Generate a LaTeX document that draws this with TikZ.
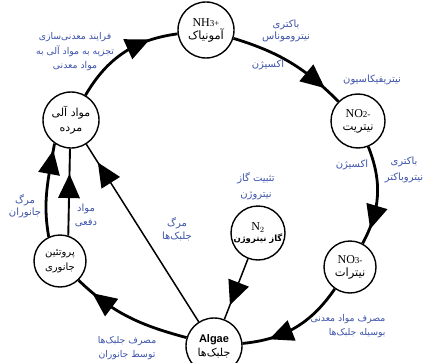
\documentclass[tikz,border=0pt]{standalone}
\usepackage{fontspec}
\usetikzlibrary{decorations.markings}
\TeXXeTstate=1
\setmainfont{Liberation Serif}
\newfontfamily\fa[Script=Arabic]{DejaVu Sans}
\newfontfamily\lsans{Liberation Sans}
\definecolor{labblue}{RGB}{60,82,170}
\tikzset{
  st/.style={circle, draw, line width=1.4pt, minimum size=#1, inner sep=0pt, align=center,
    font=\fontsize{12}{13}\selectfont},
  fatxt/.style={font=\fa\fontsize{11}{13}\selectfont},
  lab/.style={text=labblue, font=\fa\fontsize{10}{14}\selectfont, align=center},
  thickarc/.style={line width=2.8pt},
  medln/.style={line width=1.9pt},
  thinln/.style={line width=1.5pt},
  arrowat/.style={postaction={decorate, decoration={markings,
    mark=at position #1 with {\fill (12pt,0pt) -- (-12pt,11pt) -- (-12pt,-11pt) -- cycle;}}}},
}
\begin{document}
\begin{tikzpicture}[x=1pt,y=1pt]
\useasboundingbox (0,0) rectangle (427,362);
% nodes
\node[st=56pt] (nh3) at (206,332) {NH{\small 3+}\\[0pt]{\fa\fontsize{11.5}{12}\selectfont\beginR آمونیاک\endR}};
\node[st=54pt] (no2) at (358,241) {NO{\small 2-}\\[0pt]{\fa\fontsize{11.5}{12}\selectfont\beginR نیتریت\endR}};
\node[st=52pt] (no3) at (350,95) {NO{\small 3-}\\[0pt]{\fa\fontsize{11.5}{12}\selectfont\beginR نیترات\endR}};
\node[st=56pt] (algae) at (214,16) {{\lsans\bfseries\fontsize{11}{12}\selectfont Algae}\\[1pt]{\fa\fontsize{11}{12}\selectfont\beginR جلبک‌ها\endR}};
\node[st=54pt] (n2) at (258,129) {N$_2$\\[-2pt]{\fa\bfseries\fontsize{8.5}{10}\selectfont\beginR گاز نیتروژن\endR}};
\node[st=52pt, font=\fa\fontsize{10}{13}\selectfont] (prot) at (60,101) {\beginR پروتئین\endR\\[2pt]\beginR جانوری\endR};
\node[st=56pt, fatxt] (dead) at (71,242) {\beginR مواد آلی\endR\\[2pt]\beginR مرده\endR};
% main cycle
\draw[thickarc, arrowat=0.65] (dead) to[bend left=26] (nh3);
\draw[thickarc, arrowat=0.75] (nh3) to[bend left=14] (no2);
\draw[thickarc, arrowat=0.72] (no2) to[bend left=25] (no3);
\draw[thickarc, arrowat=0.65] (no3) to[bend left=25] (algae);
\draw[thickarc, arrowat=0.75] (algae.163) to[out=165,in=-44] (prot.-46);
\draw[thickarc, arrowat=0.8] (prot.115) to[out=100,in=260] (dead.235);
\draw[medln, arrowat=0.57] (prot.72) -- (dead.268);
\draw[thinln, arrowat=0.84] (algae) -- (dead);
\draw[thinln, arrowat=0.58] (n2) -- (algae);
% labels
\node[lab, font=\fa\fontsize{9.3}{14.5}\selectfont] (l1) at (75,310) {\beginR فرایند معدنی‌سازی\endR\\\beginR تجزیه به مواد آلی به\endR\\\beginR مواد معدنی\endR};
\node[lab, font=\fa\fontsize{10}{12.5}\selectfont] (l2) at (286,331) {\beginR باکتری\endR\\\beginR نیتروموناس\endR};
\node[lab] (l3) at (268,297) {\beginR اکسیژن\endR};
\node[lab] (l4) at (372,282) {\beginR نیتریفیکاسیون\endR};
\node[lab] (l5) at (352,197) {\beginR اکسیژن\endR};
\node[lab, font=\fa\fontsize{10}{16}\selectfont] (l6) at (404,192) {\beginR باکتری\endR\\\beginR نیتروباکتر\endR};
\node[lab, font=\fa\fontsize{10}{16}\selectfont] (l7) at (256,176) {\beginR تثبیت گاز\endR\\\beginR نیتروژن\endR};
\node[lab, font=\fa\fontsize{10}{12.5}\selectfont] (l8) at (25,156) {\beginR مرگ\endR\\\beginR جانوران\endR};
\node[lab] (l9) at (86,147) {\beginR مواد\endR\\\beginR دفعی\endR};
\node[lab, font=\fa\fontsize{10}{12.5}\selectfont] (l10) at (177,133) {\beginR مرگ\endR\\\beginR جلبک‌ها\endR};
\node[lab, font=\fa\fontsize{9.3}{14.5}\selectfont] (l11) at (127,14) {\beginR مصرف جلبک‌ها\endR\\\beginR توسط جانوران\endR};
\node[lab, font=\fa\fontsize{9.3}{14}\selectfont, align=right, anchor=east] (l12) at (389,36) {\beginR مصرف مواد معدنی\endR\\\beginR بوسیله جلبک‌ها\endR};
\end{tikzpicture}
\end{document}
